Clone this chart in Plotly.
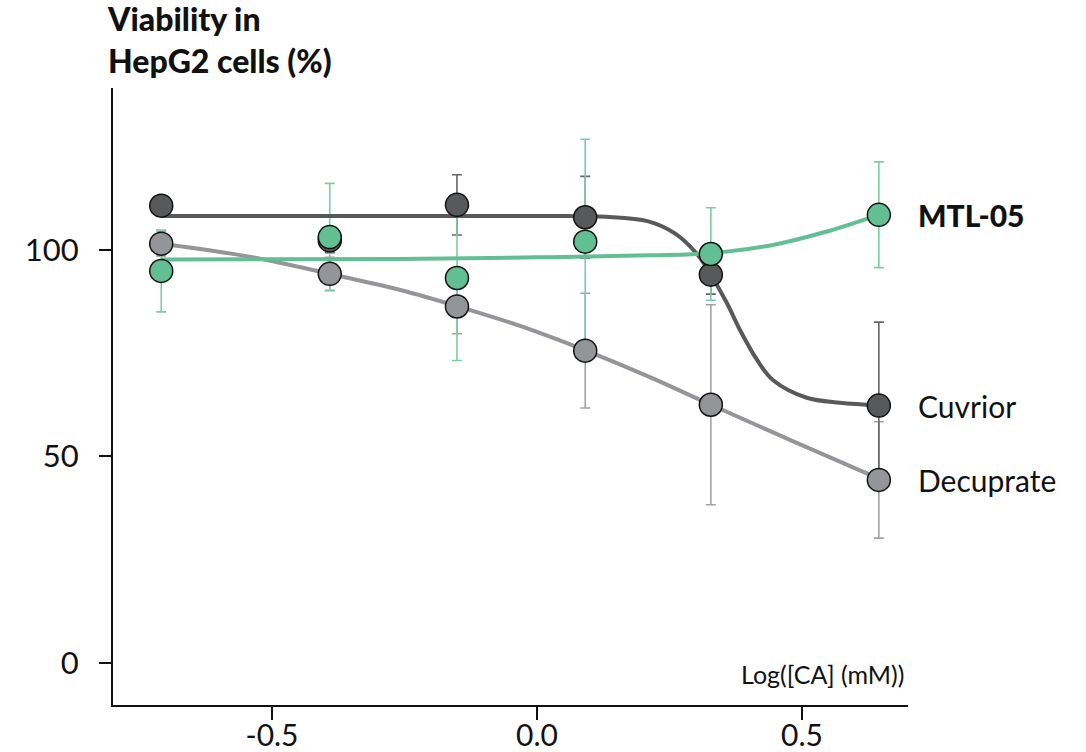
import plotly.graph_objects as go

# ---- data ----
log_conc = [-0.709, -0.391, -0.151, 0.091, 0.328, 0.645]

cuvrior = [110.7, 102.3, 110.9, 107.9, 94.0, 62.3]
cuvrior_err = [2.0, 3.0, 7.3, 9.9, 4.7, 20.2]

mtl05 = [94.9, 103.1, 93.2, 102.0, 99.0, 108.5]
mtl05_err = [9.9, 13.0, 20.0, 24.8, 11.2, 12.8]

decuprate = [101.5, 94.2, 86.3, 75.6, 62.5, 44.3]
decuprate_err = [3.0, 4.0, 6.6, 13.9, 24.2, 14.1]

# fitted curves
cuvrior_fit_x = [-0.709, -0.3, 0.0, 0.13, 0.21, 0.26, 0.30, 0.326, 0.358, 0.383, 0.415, 0.445, 0.509, 0.572, 0.645]
cuvrior_fit_y = [108.2, 108.2, 108.2, 108.0, 106.9, 104.0, 99.3, 94.4, 87.2, 80.6, 73.4, 68.5, 64.2, 63.0, 62.4]

mtl05_fit_x = [-0.709, -0.26, 0.006, 0.213, 0.326, 0.445, 0.540, 0.645]
mtl05_fit_y = [97.7, 97.8, 98.2, 98.7, 99.2, 101.2, 104.2, 108.5]

decuprate_fit_x = [-0.709, -0.540, -0.391, -0.258, -0.151, -0.032, 0.089, 0.213, 0.328, 0.477, 0.645]
decuprate_fit_y = [101.5, 98.3, 94.2, 90.3, 86.4, 81.6, 75.8, 69.2, 62.5, 54.0, 44.6]

x_tick_vals = [-0.5, 0.0, 0.5]
x_tick_text = ["-0.5", "0.0", "0.5"]
y_tick_vals = [0, 50, 100]

DARK = "#58595b"
GRAY = "#939598"
GREEN = "#62bf94"
FONT = "Lato"
INK = "#111111"

fig = go.Figure()

# error bars (drawn first, below curves and markers)
for vals, errs, col in [
    (decuprate, decuprate_err, "#a3a3a3"),
    (cuvrior, cuvrior_err, "#666666"),
    (mtl05, mtl05_err, "#7ccda6"),
]:
    fig.add_trace(go.Scatter(
        x=log_conc, y=vals, mode="markers",
        marker=dict(size=2, opacity=0, color=col),
        error_y=dict(type="data", array=errs, visible=True, color=col,
                     thickness=1.6, width=5),
        showlegend=False, hoverinfo="skip"))

# fitted curves
for fx, fy, col in [
    (decuprate_fit_x, decuprate_fit_y, GRAY),
    (cuvrior_fit_x, cuvrior_fit_y, DARK),
    (mtl05_fit_x, mtl05_fit_y, GREEN),
]:
    fig.add_trace(go.Scatter(
        x=fx, y=fy, mode="lines", line=dict(color=col, width=4, shape="spline", smoothing=1.0),
        showlegend=False, hoverinfo="skip"))

# markers
for vals, col, name in [
    (decuprate, GRAY, "Decuprate"),
    (cuvrior, DARK, "Cuvrior"),
    (mtl05, GREEN, "MTL-05"),
]:
    fig.add_trace(go.Scatter(
        x=log_conc, y=vals, mode="markers", name=name,
        marker=dict(size=23, color=col, line=dict(color=INK, width=1.5)),
        showlegend=False))

# end labels
labels = [("MTL-05", mtl05[-1], True), ("Cuvrior", cuvrior[-1], False), ("Decuprate", decuprate[-1], False)]
for text, yv, bold in labels:
    fig.add_annotation(
        x=log_conc[-1], y=yv, xref="x", yref="y",
        text=text, showarrow=False, xanchor="left", yanchor="middle", xshift=37,
        font=dict(family=FONT, size=30, color=INK, weight=900 if bold else 400))

# y-axis title (two lines, bold, top-left)
fig.add_annotation(
    x=0, y=1, xref="paper", yref="paper", xshift=-8, yshift=91,
    text="Viability in<br>HepG2 cells (%)", showarrow=False,
    xanchor="left", yanchor="top", align="left",
    font=dict(family=FONT, size=32, color=INK, weight=900))

# x-axis title at the lower right inside plot
fig.add_annotation(
    x=1, y=0, xref="paper", yref="paper", xshift=-2, yshift=14,
    text="Log([CA] (mM))", showarrow=False, xanchor="right", yanchor="bottom",
    font=dict(family=FONT, size=25, color=INK))

fig.update_layout(
    width=1086, height=752,
    margin=dict(l=113, r=178, t=88, b=47, autoexpand=False),
    plot_bgcolor="white", paper_bgcolor="white",
    font=dict(family=FONT, size=30, color=INK),
    showlegend=False,
    xaxis=dict(range=[-0.8, 0.7], tickvals=x_tick_vals, ticktext=x_tick_text,
               automargin=False,
               showgrid=False, zeroline=False, showline=True, linecolor=INK,
               linewidth=2, ticks="outside", ticklen=13, tickwidth=2, tickcolor=INK,
               ticklabelstandoff=-10, tickfont=dict(family=FONT, size=30, color=INK)),
    yaxis=dict(range=[-10.2, 139.2], tickvals=y_tick_vals, automargin=False,
               showgrid=False, zeroline=False, showline=True, linecolor=INK,
               linewidth=2, ticks="outside", ticklen=12, tickwidth=2, tickcolor=INK,
               ticklabelstandoff=14, tickfont=dict(family=FONT, size=31, color=INK)),
)

fig.write_html("out.html")
